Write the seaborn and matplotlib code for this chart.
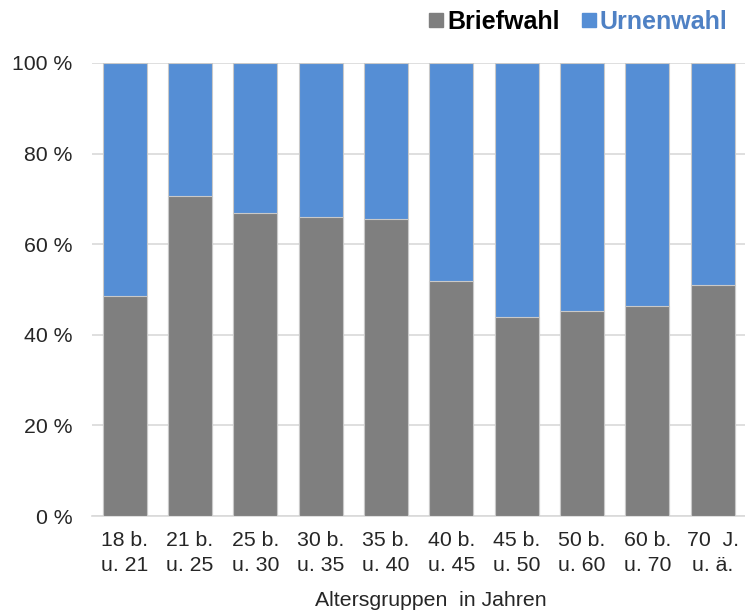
import numpy as np
import matplotlib
matplotlib.use("Agg")
import matplotlib.pyplot as plt
from matplotlib.lines import Line2D
import seaborn as sns

sns.set_style('white')
plt.rcParams['font.family'] = ['Liberation Sans', 'DejaVu Sans']

# data (percent)
age_groups = ["18 b.\nu. 21", "21 b.\nu. 25", "25 b.\nu. 30", "30 b.\nu. 35", "35 b.\nu. 40",
              "40 b.\nu. 45", "45 b.\nu. 50", "50 b.\nu. 60", "60 b.\nu. 70", "70  J.\nu. ä."]
briefwahl = [48.6, 70.7, 66.9, 66.0, 65.6, 51.8, 44.0, 45.3, 46.4, 51.0]
urnenwahl = [51.4, 29.3, 33.1, 34.0, 34.4, 48.2, 56.0, 54.7, 53.6, 49.0]
y_ticks = [0, 20, 40, 60, 80, 100]

gray = "#7F7F7F"
blue = "#558ED5"
blue_text = "#4F81C4"
edge = "#C9C9C9"

totals = [b + u for b, u in zip(briefwahl, urnenwahl)]

fig = plt.figure(figsize=(7.45, 6.14), dpi=100)
ax = fig.add_axes([0.1235, 0.1596, 0.877, 0.7378])

sns.barplot(x=age_groups, y=totals, color=blue, saturation=1, width=0.67,
            edgecolor=edge, linewidth=0.8, ax=ax, zorder=3)
sns.barplot(x=age_groups, y=briefwahl, color=gray, saturation=1, width=0.67,
            edgecolor=edge, linewidth=0.8, ax=ax, zorder=3)

fs = 15.3
ax.set_ylim(0, 100)
ax.set_xlim(-0.5, len(age_groups) - 0.5)
ax.set_yticks(y_ticks)
ax.set_yticklabels([f"{t} %" for t in y_ticks], fontsize=fs)
ax.tick_params(axis='x', labelsize=fs, length=0, pad=11)
ax.tick_params(axis='y', length=0, pad=14)
for lbl in ax.get_xticklabels():
    lbl.set_linespacing(1.35)
ax.grid(axis='y', color="#D9D9D9", linewidth=1.2, zorder=0)
ax.set_axisbelow(True)
for s in ['top', 'right', 'left']:
    ax.spines[s].set_visible(False)
ax.spines['bottom'].set_color("#D9D9D9")
ax.spines['bottom'].set_linewidth(1.2)

ax.set_xlabel("Altersgruppen  in Jahren", fontsize=fs, labelpad=12)
ax.xaxis.label.set_x(0.518)
ax.set_ylabel("")

handles = [Line2D([], [], marker='s', linestyle='', markersize=10, color=gray),
           Line2D([], [], marker='s', linestyle='', markersize=10, color=blue)]
leg = fig.legend(handles, ["Briefwahl", "Urnenwahl"], loc='center right',
                 bbox_to_anchor=(1.0, 0.964), ncol=2, frameon=False,
                 prop={'weight': 'bold', 'size': 18}, handlelength=0.5,
                 handletextpad=0.2, columnspacing=0.9, borderpad=0.2)
leg.get_texts()[0].set_color("black")
leg.get_texts()[1].set_color(blue_text)

fig.savefig("out.png", dpi=100)
